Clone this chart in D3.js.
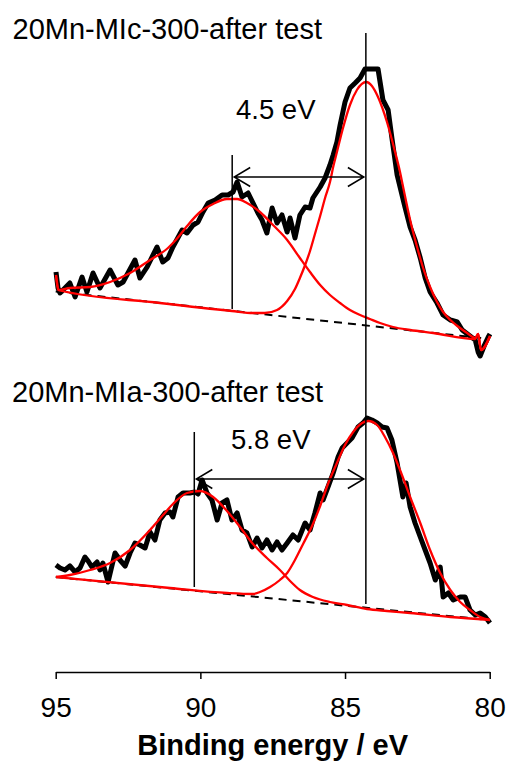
<!DOCTYPE html>
<html>
<head>
<meta charset="utf-8">
<script src="https://cdn.jsdelivr.net/npm/d3@7"></script>
<style>
  body { margin: 0; background: #fff; }
  svg text { font-family: Arial, "Liberation Sans", sans-serif; fill: #000; }
</style>
</head>
<body>
<div id="chart"></div>
<script>
// binding energy ticks (x axis runs 95 -> 80)
var energyTicks = [95, 90, 85, 80];

// sample names
var titles = ["20Mn-MIc-300-after test", "20Mn-MIa-300-after test"];
var splitLabels = ["4.5 eV", "5.8 eV"];

// measured spectra [binding energy, intensity a.u.]
var topRaw = [
  [94.99,400],[94.92,384],[94.85,379],[94.51,389],[94.33,375],[94.09,395],[93.92,380],[93.71,399],
  [93.47,384],[93.12,402],[92.85,387],[92.67,390],[92.26,412],[92.09,394],[91.84,405],[91.50,425],
  [91.30,410],[91.12,414],[90.95,425],[90.63,442],[90.46,439],[90.25,447],[90.08,450],[89.91,460],
  [89.73,469],[89.49,472],[89.25,477],[89.04,477],[88.87,480],[88.73,490],[88.56,475],[88.35,479],
  [88.18,469],[88.01,459],[87.87,452],[87.70,439],[87.52,464],[87.35,449],[87.18,457],[87.00,440],
  [86.90,454],[86.73,434],[86.56,457],[86.38,465],[86.21,464],[86.11,474],[85.86,485],[85.69,494],
  [85.52,507],[85.41,517],[85.28,530],[85.17,547],[85.00,570],[84.83,584],[84.65,589],[84.48,594],
  [84.31,603],[84.07,603],[83.86,603],[83.69,572],[83.51,562],[83.38,534],[83.20,497],[82.93,465],
  [82.75,445],[82.58,432],[82.40,414],[82.23,394],[82.06,380],[81.82,369],[81.61,357],[81.36,352],
  [81.12,350],[80.95,342],[80.68,336],[80.50,332],[80.40,320],[80.33,316],[80.18,327],[80.05,335],
  [79.99,338]
];
var bottomRaw = [
  [94.99,107],[94.85,104],[94.68,102],[94.51,106],[94.33,100],[94.16,104],[93.99,115],[93.88,111],
  [93.75,105],[93.57,110],[93.47,102],[93.37,109],[93.19,90],[92.95,119],[92.78,112],[92.60,106],
  [92.43,119],[92.26,129],[92.09,127],[91.91,124],[91.74,140],[91.57,132],[91.40,152],[91.22,159],
  [91.05,160],[90.95,155],[90.77,175],[90.60,179],[90.36,179],[90.19,180],[90.08,178],[89.94,192],
  [89.77,179],[89.60,172],[89.42,152],[89.25,169],[89.08,172],[88.91,152],[88.73,159],[88.56,142],
  [88.39,139],[88.21,125],[88.04,134],[87.87,124],[87.70,132],[87.52,122],[87.35,130],[87.18,122],
  [87.00,129],[86.80,137],[86.62,132],[86.38,149],[86.21,142],[86.04,159],[85.86,179],[85.76,172],
  [85.59,185],[85.41,199],[85.24,215],[85.10,224],[84.93,229],[84.76,234],[84.55,245],[84.38,249],
  [84.24,254],[84.07,252],[83.89,249],[83.72,245],[83.55,244],[83.38,232],[83.20,209],[83.10,192],
  [83.00,175],[82.89,189],[82.75,165],[82.58,149],[82.40,135],[82.23,122],[82.06,109],[81.88,92],
  [81.71,105],[81.61,75],[81.43,79],[81.26,72],[81.02,75],[80.85,75],[80.68,62],[80.50,57],
  [80.33,59],[80.15,55],[79.99,49]
];

// fitted components (peak + background)
var topMainFit = [
  [94.99,397],[94.92,382],[91.40,369],[88.91,361],[88.18,359],[87.77,359],[87.35,362],[87.00,371],
  [86.73,383],[86.56,394],[86.38,407],[86.21,421],[86.04,438],[85.86,456],[85.69,474],[85.52,490],
  [85.41,505],[85.28,520],[85.07,544],[84.83,567],[84.59,582],[84.27,590],[84.07,586],[83.86,575],
  [83.55,550],[83.27,520],[83.10,500],[83.00,486],[82.75,452],[82.51,425],[82.30,404],[82.06,385],
  [81.82,370],[81.61,360],[81.36,352],[81.12,346],[80.78,339],[80.50,334],[80.40,338],[80.30,322],
  [79.99,336]
];
var topSatFit = [
  [94.99,397],[94.88,382],[94.51,384],[93.81,385],[93.12,390],[92.43,399],[91.74,412],[91.12,424],
  [90.79,434],[90.46,446],[90.01,460],[89.56,468],[89.08,473],[88.73,473],[88.39,469],[87.94,460],
  [87.49,447],[87.00,432],[86.56,414],[86.21,400],[85.86,387],[85.52,377],[85.17,369],[84.83,362],
  [84.48,357],[84.14,353],[83.79,349],[83.34,345],[82.75,342],[81.95,339],[80.50,333],[80.40,338],
  [80.30,322],[79.99,336]
];
var bottomMainFit = [
  [94.99,95],[91.05,84],[89.08,79],[88.18,78],[87.94,80],[87.59,85],[87.25,92],[87.00,99],
  [86.73,112],[86.45,128],[86.14,146],[85.86,166],[85.59,188],[85.28,209],[85.00,227],[84.72,240],
  [84.41,249],[84.20,251],[83.89,247],[83.62,235],[83.34,219],[83.10,202],[82.75,175],[82.40,149],
  [82.06,122],[81.71,99],[81.36,82],[81.02,70],[80.68,62],[80.33,55],[79.99,52]
];
var bottomSatFit = [
  [94.99,95],[94.51,97],[93.81,102],[93.12,109],[92.43,122],[91.74,142],[91.29,157],[90.95,168],
  [90.46,179],[90.01,181],[89.56,175],[89.08,161],[88.63,145],[88.18,128],[87.70,114],[87.25,102],
  [86.90,91],[86.56,82],[86.11,75],[85.52,70],[84.93,67],[84.24,63],[83.55,61],[82.75,59],
  [81.36,55],[79.99,52]
];

// linear backgrounds [energy, intensity]
var topBackground = [[95, 380.5], [80, 333]];
var bottomBackground = [[95, 95], [80, 52]];

// peak position markers: energy, intensity from, intensity to
var markers = [
  { e: 84.28, from: 68, to: 639 },
  { e: 88.90, from: 363, to: 517 },
  { e: 90.21, from: 85, to: 240 }
];
// splitting arrows
var arrows = [
  { e1: 88.90, e2: 84.28, i: 495 },
  { e1: 90.21, e2: 84.28, i: 193 }
];

var width = 509, height = 764;

var svg = d3.select("#chart")
    .append("svg")
    .attr("width", width)
    .attr("height", height);

var x = d3.scaleLinear().domain([95, 80]).range([55.7, 489.7]);
var y = d3.scaleLinear().domain([0, 640]).range([672, 32]);

var line = d3.line()
    .x(function(d) { return x(d[0]); })
    .y(function(d) { return y(d[1]); });
var smooth = d3.line()
    .x(function(d) { return x(d[0]); })
    .y(function(d) { return y(d[1]); })
    .curve(d3.curveMonotoneX);

// backgrounds (dashed)
[topBackground, bottomBackground].forEach(function(bg) {
    svg.append("path")
        .attr("d", line(bg))
        .attr("fill", "none")
        .attr("stroke", "#000")
        .attr("stroke-width", 2)
        .attr("stroke-dasharray", "8,6");
});

// raw spectra
[topRaw, bottomRaw].forEach(function(s) {
    svg.append("path")
        .attr("d", line(s))
        .attr("fill", "none")
        .attr("stroke", "#000")
        .attr("stroke-width", 5)
        .attr("stroke-linejoin", "round");
});

// fits
[topMainFit, topSatFit, bottomMainFit, bottomSatFit].forEach(function(s) {
    svg.append("path")
        .attr("d", smooth(s))
        .attr("fill", "none")
        .attr("stroke", "#ff0000")
        .attr("stroke-width", 2.3);
});

// vertical markers
svg.selectAll(".marker")
    .data(markers)
    .enter()
    .append("line")
    .attr("class", "marker")
    .attr("x1", function(d) { return x(d.e); })
    .attr("x2", function(d) { return x(d.e); })
    .attr("y1", function(d) { return y(d.from); })
    .attr("y2", function(d) { return y(d.to); })
    .attr("stroke", "#000")
    .attr("stroke-width", 1.5);

// double arrows
var headL = 16, headW = 9.5;
arrows.forEach(function(a) {
    var xa = x(a.e1) + 2, xb = x(a.e2) - 2, yy = y(a.i);
    var p = d3.path();
    p.moveTo(xa, yy); p.lineTo(xb, yy);
    p.moveTo(xa + headL, yy - headW); p.lineTo(xa, yy); p.lineTo(xa + headL, yy + headW);
    p.moveTo(xb - headL, yy - headW); p.lineTo(xb, yy); p.lineTo(xb - headL, yy + headW);
    svg.append("path")
        .attr("d", p.toString())
        .attr("fill", "none")
        .attr("stroke", "#000")
        .attr("stroke-width", 1.5);
});

// labels
svg.append("text").attr("x", 12.5).attr("y", 39).attr("font-size", 29).text(titles[0]);
svg.append("text").attr("x", 12).attr("y", 402).attr("font-size", 29).text(titles[1]);
svg.append("text").attr("x", 236).attr("y", 119).attr("font-size", 27.5).text(splitLabels[0]);
svg.append("text").attr("x", 231).attr("y", 449).attr("font-size", 27.5).text(splitLabels[1]);

// x axis
var axis = svg.append("g")
    .attr("transform", "translate(0,672)")
    .call(d3.axisBottom(x).tickValues(energyTicks).tickSize(7).tickSizeOuter(0).tickPadding(18));
axis.select(".domain").attr("stroke", "#000").attr("stroke-width", 1.5);
axis.selectAll(".tick line").attr("stroke", "#000").attr("stroke-width", 1.5);
axis.selectAll(".tick text")
    .attr("font-size", 28)
    .attr("font-family", "Arial, 'Liberation Sans', sans-serif")
    .attr("fill", "#000");

svg.append("text")
    .attr("x", 272.7)
    .attr("y", 755)
    .attr("text-anchor", "middle")
    .attr("font-size", 29)
    .attr("font-weight", "bold")
    .text("Binding energy / eV");
</script>
</body>
</html>
